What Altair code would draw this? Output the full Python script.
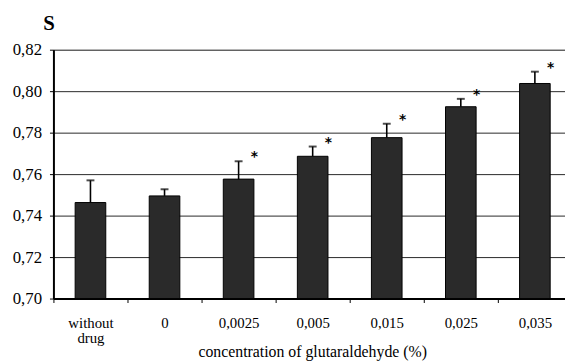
import altair as alt
import pandas as pd

categories = ["without drug", "0", "0,0025", "0,005", "0,015", "0,025", "0,035"]
means = [0.7463, 0.7495, 0.7576, 0.7686, 0.7776, 0.7925, 0.8037]
errors = [0.0107, 0.0032, 0.0086, 0.0047, 0.0067, 0.0038, 0.0057]
significant = [False, False, True, True, True, True, True]
y_ticks = [0.70, 0.72, 0.74, 0.76, 0.78, 0.80, 0.82]
y_min, y_max = 0.70, 0.82

df = pd.DataFrame({
    "cat": categories,
    "mean": means,
    "top": [m + e for m, e in zip(means, errors)],
    "sig": ["*" if s else "" for s in significant],
})

SERIF = "'Times New Roman', 'Liberation Serif', serif"

x = alt.X(
    "cat:N",
    sort=categories,
    scale=alt.Scale(range=[0, 525], paddingInner=0, paddingOuter=0),
    axis=alt.Axis(
        title="concentration of glutaraldehyde (%)",
        titleFont=SERIF, titleFontSize=16, titleFontWeight="normal", titleColor="black",
        titleX=262, titleY=54, titleBaseline="middle",
        labelFont=SERIF, labelFontSize=15, labelColor="black", labelAngle=0,
        labelBaseline="middle", labelPadding=20, labelLineHeight=16,
        labelExpr="datum.value == 'without drug' ? ['without', 'drug'] : datum.value",
        tickBand="extent", tickSize=4, tickColor="black", tickWidth=1,
        domainColor="black", domainWidth=2, grid=False,
    ),
)

y = alt.Y(
    "mean:Q",
    scale=alt.Scale(domain=[y_min, y_max], nice=False, zero=False),
    axis=alt.Axis(
        title="S", titleAngle=0, titleFont=SERIF, titleFontSize=21, titleFontWeight="bold",
        titleColor="black", titleX=-5, titleY=-20, titleAlign="center", titleBaseline="alphabetic",
        values=y_ticks,
        labelExpr="replace(format(datum.value, '.2f'), '.', ',')",
        labelFont=SERIF, labelFontSize=17, labelColor="black", labelPadding=8,
        tickSize=4, tickColor="black", tickWidth=1,
        domainColor="black", domainWidth=2,
        grid=True, gridColor="black", gridWidth=1, gridOpacity=0.85,
    ),
)

bars = alt.Chart(df).mark_bar(size=31, color="#2a2a2a", stroke="black", strokeWidth=1).encode(
    x=x, y=y, y2=alt.datum(y_min)
)

rules = alt.Chart(df).mark_rule(color="black", strokeWidth=1.6).encode(
    x=alt.X("cat:N", sort=categories), y="mean:Q", y2="top:Q"
)
caps = alt.Chart(df).mark_tick(color="black", size=8, thickness=2, orient="horizontal").encode(
    x=alt.X("cat:N", sort=categories), y="top:Q"
)
stars = alt.Chart(df).mark_text(
    font="DejaVu Sans", fontSize=14, fontWeight="bold", color="black", dx=16, dy=-4, baseline="middle"
).encode(x=alt.X("cat:N", sort=categories), y="top:Q", text="sig:N")

chart = alt.layer(bars, rules, caps, stars).properties(
    width=518, height=252,
    autosize=alt.AutoSizeParams(type="none"),
    padding={"left": 46, "top": 40, "right": 0, "bottom": 61},
).configure_view(stroke=None).configure(background="white")

chart.save("out.html", embed_options={"renderer": "svg", "actions": False})
